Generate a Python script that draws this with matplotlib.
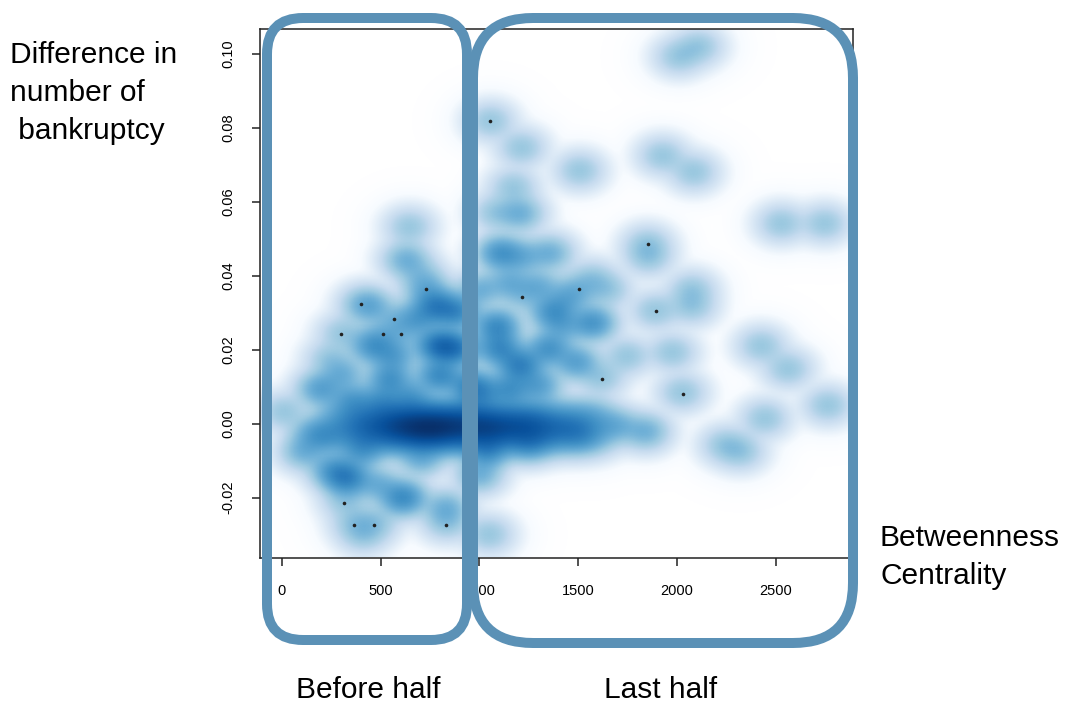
import numpy as np
import matplotlib
matplotlib.use("Agg")
import matplotlib.pyplot as plt
from matplotlib.colors import LinearSegmentedColormap
from matplotlib.patches import FancyBboxPatch
from matplotlib.transforms import IdentityTransform

# ---------------- data ----------------
# clusters of firms: betweenness centrality, difference in bankruptcies, count
pts_x = [2015, 2116, 1053, 1213, 1509, 1931, 2091, 2538, 2758, 1855, 1860,
         1170, 1205, 1080, 1104, 1215, 1357, 1575, 2081, 1217, 1505, 1894,
         2081, 1087, 1373, 1575, 1205, 1350, 1492, 1619, 1750, 1981, 2032,
         2435, 2572, 2775, 2454, 2251, 2330, 1846, 1700, 1036, 1250, 1500,
         641, 625, 700, 402, 727, 565, 300, 514, 603, 439, 776, 880, 456,
         793, 880, 236, 186, 540, 793, 0, 101, 200, 320, 608, 827, 314,
         365, 466, 829, 405, 1046, 996, 400, 700,
         1150, 1300, 1450, 1650, 1000, 1100, 950,
         350, 500, 650, 300, 680, 560, 250, 150, 480, 1000, 1150, 1300, 1420]
pts_y = [0.0996, 0.1023, 0.0820, 0.0747, 0.0685, 0.0726, 0.0681, 0.0541,
         0.0541, 0.0484, 0.0450, 0.0640, 0.0568, 0.0570, 0.0460, 0.0450,
         0.0460, 0.0390, 0.0360, 0.0343, 0.0363, 0.0303, 0.0316, 0.0260,
         0.0300, 0.0270, 0.0154, 0.0200, 0.0163, 0.0121, 0.0180, 0.0190,
         0.0081, 0.0208, 0.0145, 0.0046, 0.0010, -0.0062, -0.0080, -0.0026,
         -0.0010, -0.0080, -0.0060, -0.0040,
         0.0532, 0.0442, 0.0400, 0.0322, 0.0363, 0.0283, 0.0242, 0.0242,
         0.0242, 0.0316, 0.0316, 0.0300, 0.0208, 0.0208, 0.0200, 0.0172,
         0.0090, 0.0118, 0.0127, 0.0028, -0.0080, -0.0040, -0.0152, -0.0206,
         -0.0234, -0.0214, -0.0274, -0.0274, -0.0274, -0.0306, -0.0306,
         -0.0143, -0.0080, -0.0100,
         0.0380, 0.0370, 0.0340, 0.0360, 0.0360, 0.0200, 0.0100,
         0.0060, 0.0060, 0.0070, 0.0130, 0.0280, 0.0180, -0.0130, -0.0030,
         -0.0170, 0.0080, 0.0090, 0.0100, 0.0260]
pts_w = [1, 1, 1, 1, 1, 1, 1, 1, 1, 1, 1,
         1, 2, 1, 4, 2, 2, 1, 1, 1, 1, 1,
         1, 5, 4, 4, 6, 4, 3, 1, 1, 1, 1,
         1, 1, 1, 1, 1, 1, 2, 2, 4, 3, 2,
         1, 2, 1, 1, 2, 1, 1, 1, 1, 2, 6, 5, 4,
         8, 6, 1, 3, 4, 5, 1, 2, 2, 6, 5, 2, 1,
         1, 1, 1, 1, 1, 2, 3, 2,
         2, 2, 2, 1, 2, 5, 4,
         3, 3, 3, 2, 3, 3, 3, 2, 2, 4, 4, 3, 2]

# dense band around zero difference (three rows)
band_x = [250, 325, 400, 475, 550, 625, 700, 775, 850, 925, 1000, 1075,
          1150, 1225, 1300, 1375, 1450, 1525, 1600]
band_y = [-0.0045, -0.0012, 0.0022]
band_w = [[1, 1, 2, 2, 3, 3, 4, 4, 3, 3, 3, 3, 2, 2, 2, 2, 1, 1, 1],
          [1, 2, 3, 4, 5, 7, 8, 8, 7, 6, 6, 6, 5, 5, 4, 3, 3, 2, 1],
          [1, 1, 2, 2, 3, 3, 3, 3, 3, 3, 3, 2, 2, 2, 2, 1, 1, 1, 1]]

# individual (low density) firms drawn as dots
dot_x = [1053, 1855, 402, 727, 565, 300, 514, 603, 1217, 1505, 1894,
         1619, 2032, 314, 365, 466, 829]
dot_y = [0.0819, 0.0485, 0.0322, 0.0363, 0.0283, 0.0242, 0.0242, 0.0242,
         0.0343, 0.0363, 0.0303, 0.0121, 0.0081, -0.0214, -0.0274,
         -0.0274, -0.0274]

x_ticks = [0, 500, 1000, 1500, 2000, 2500]
y_ticks = [-0.02, 0.00, 0.02, 0.04, 0.06, 0.08, 0.10]
y_ticklabels = ["-0.02", "0.00", "0.02", "0.04", "0.06", "0.08", "0.10"]

# ---------------- figure ----------------
W, H = 1065, 702
fig = plt.figure(figsize=(W / 100, H / 100), dpi=100)
fig.patch.set_facecolor("white")

left, right, top, bottom = 260, 853, 28.5, 557.5
ax = fig.add_axes([left / W, 1 - bottom / H, (right - left) / W, (bottom - top) / H])
xlim = (-111, 2891)
ylim = (-0.0362, 0.1068)
ax.set_xlim(*xlim)
ax.set_ylim(*ylim)

# smoothed density (smoothScatter style)
allx = list(pts_x)
ally = list(pts_y)
allw = list(pts_w)
for r, yy in enumerate(band_y):
    for c, xx in enumerate(band_x):
        allx.append(xx)
        ally.append(yy)
        allw.append(band_w[r][c])
allx = np.array(allx, float)
ally = np.array(ally, float)
allw = np.array(allw, float)

nx, ny = 128, 128
gx = np.linspace(xlim[0], xlim[1], nx)
gy = np.linspace(ylim[0], ylim[1], ny)
GX, GY = np.meshgrid(gx, gy)
sx, sy = 65.0, 0.0027
D = np.zeros_like(GX)
for xx, yy, ww in zip(allx, ally, allw):
    D += ww * np.exp(-0.5 * ((GX - xx) / sx) ** 2 - 0.5 * ((GY - yy) / sy) ** 2)
T = D ** 0.25
T = T / T.max()

blues9 = ["#F7FBFF", "#DEEBF7", "#C6DBEF", "#9ECAE1", "#6BAED6",
          "#4292C6", "#2171B5", "#08519C", "#08306B"]
cmap = LinearSegmentedColormap.from_list("ss", ["#FFFFFF"] + blues9)
ax.imshow(T, origin="lower", extent=(xlim[0], xlim[1], ylim[0], ylim[1]),
          aspect="auto", cmap=cmap, vmin=0, vmax=1, interpolation="bilinear",
          zorder=1)
ax.plot(dot_x, dot_y, "o", ms=2.6, color="#222222", mec="none", zorder=3)

# axes styling (R base look)
for s in ax.spines.values():
    s.set_linewidth(1.1)
    s.set_color("#222222")
ax.set_xticks(x_ticks)
ax.set_xticklabels([str(v) for v in x_ticks])
ax.set_yticks(y_ticks)
ax.set_yticklabels(y_ticklabels)
ax.tick_params(axis="both", direction="out", length=6, width=1.1,
               color="#222222", labelsize=10.5, pad=13)
ax.tick_params(axis="y", labelrotation=90, pad=12)
for lab in ax.get_yticklabels():
    lab.set_va("center")
    lab.set_fontfamily("Liberation Sans")
for lab in ax.get_xticklabels():
    lab.set_fontfamily("Liberation Sans")

# rounded annotation frames (pixel coordinates)
frame_col = "#5b91b6"
for (x0, y0, x1, y1, rad) in [(267, 18, 467, 640, 36), (473, 18, 853, 643, 60)]:
    p = FancyBboxPatch((x0, H - y1), x1 - x0, y1 - y0,
                       boxstyle=f"round,pad=0,rounding_size={rad}",
                       transform=IdentityTransform(), fill=False,
                       edgecolor=frame_col, linewidth=7.2, zorder=10,
                       clip_on=False)
    fig.add_artist(p)

# annotation texts
def ftext(x, y_base, s, ha="left"):
    fig.text(x / W, 1 - y_base / H, s, ha=ha, va="baseline",
             fontsize=21.5, family="Liberation Sans", color="#000000")

ftext(10, 63, "Difference in")
ftext(10, 101, "number of")
ftext(10, 139, " bankruptcy")
ftext(880, 546, "Betweenness")
ftext(880, 584, "Centrality")
ftext(368, 698, "Before half", ha="center")
ftext(661, 698, "Last half", ha="center")

fig.savefig("out.png", dpi=100)
